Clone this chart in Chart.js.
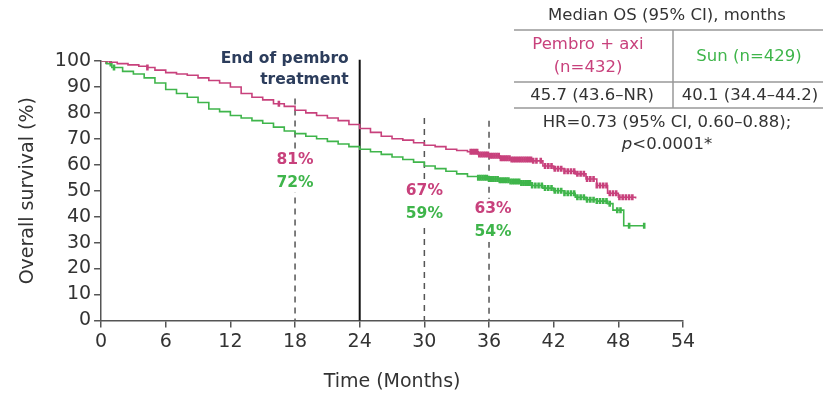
<!DOCTYPE html>
<html>
<head>
<meta charset="utf-8">
<script src="https://cdn.jsdelivr.net/npm/chart.js@4.4.1/dist/chart.umd.min.js"></script>
<style>
  html, body { margin: 0; padding: 0; background: #fff; }
  #wrap { position: relative; width: 823px; height: 401px; }
</style>
</head>
<body>
<div id="wrap"><canvas id="osChart" width="823" height="401"></canvas></div>
<script>
// ---- data (months, % alive) ----
const pembroMonths = [0, 0.8, 1.5, 2.5, 3.5, 4.3, 5, 6, 7, 8, 9, 10, 11, 12, 13, 14, 15, 16, 17, 18,
  19, 20, 21, 22, 23, 24, 25, 26, 27, 28, 29, 30, 31, 32, 33, 34, 35, 36, 37, 38, 39, 40, 41, 42,
  43, 44, 45, 46, 47, 48, 49.6];
const pembroSurv = [100, 99.5, 99, 98.5, 98, 97.5, 96.5, 95.5, 95, 94.5, 93.5, 92.5, 91.5, 90, 87.5, 86, 85, 83.5, 82.5, 81,
  80, 79, 78, 77, 75.5, 74, 72.5, 71, 70, 69.5, 68.5, 67.5, 67, 66, 65.5, 65, 64, 63.5, 62.5, 62, 62, 61.5, 59.5, 58.5,
  57.5, 56.5, 54.5, 52, 49, 47.5, 47];

const sunMonths = [0, 0.5, 1, 2, 3, 4, 5, 6, 7, 8, 9, 10, 11, 12, 13, 14, 15, 16, 17, 18,
  19, 20, 21, 22, 23, 24, 25, 26, 27, 28, 29, 30, 31, 32, 33, 34, 35, 36, 37, 38, 39, 40, 41, 42,
  43, 44, 45, 46, 47, 47.5, 48.5, 50.4];
const sunSurv = [100, 99, 97.5, 96, 95, 93.5, 91.5, 89, 87.5, 86, 84, 81.5, 80.5, 79, 78, 77, 76, 74.5, 73, 72,
  71, 70, 69, 68, 67, 66, 65, 64, 63, 62, 61, 59.5, 58.5, 57.5, 56.5, 55.5, 55, 54.5, 54, 53.5, 53, 52, 51, 50,
  49, 47.5, 46.5, 46, 45, 42.5, 36.5, 36.5];

// censoring ticks (months)
const pembroCensor = [0.5, 4.3, 16.5, 34.3, 34.5, 34.7, 34.9, 35.1, 35.3, 35.5, 35.7, 35.9, 36.1, 36.3,
  36.5, 36.7, 36.9, 37.1, 37.3, 37.5, 37.7, 37.9, 38.1, 38.3, 38.5, 38.7, 38.9, 39.1, 39.3, 39.5, 39.7,
  39.9, 40.1, 40.4, 40.8, 41.2, 41.5, 41.8, 42.1, 42.4, 42.7, 43.0, 43.3, 43.6, 43.9, 44.2, 44.5, 44.8,
  45.1, 45.4, 45.7, 46.0, 46.3, 46.6, 46.9, 47.2, 47.5, 47.8, 48.1, 48.4, 48.7, 49.0, 49.3];
const sunCensor = [0.9, 1.2, 35.0, 35.2, 35.4, 35.6, 35.8, 36.0, 36.2, 36.4, 36.6, 36.8, 37.0, 37.2, 37.4,
  37.6, 37.8, 38.0, 38.2, 38.4, 38.6, 38.8, 39.0, 39.2, 39.4, 39.6, 39.8, 40.0, 40.3, 40.6, 40.9, 41.2,
  41.5, 41.8, 42.1, 42.4, 42.7, 43.0, 43.3, 43.6, 43.9, 44.2, 44.5, 44.8, 45.1, 45.4, 45.7, 46.0, 46.3,
  46.6, 46.9, 47.2, 47.9, 48.2, 49.0, 50.4];

// landmark rates
const landmarkMonths = [18, 30, 36];
const pembroLandmark = ['81%', '67%', '63%'];
const sunLandmark = ['72%', '59%', '54%'];
const treatmentEnd = 24;

const xTicks = [0, 6, 12, 18, 24, 30, 36, 42, 48, 54];
const yTicks = [0, 10, 20, 30, 40, 50, 60, 70, 80, 90, 100];

const PEMBRO = '#c8417c';
const SUN = '#3fb54b';
const FONT = '"DejaVu Sans", "Liberation Sans", Arial, sans-serif';

function toPoints(xs, ys) {
  return xs.map((x, i) => ({ x: x, y: ys[i] }));
}

// value of the step curve at time t
function survAt(xs, ys, t) {
  let v = ys[0];
  for (let i = 0; i < xs.length; i++) {
    if (xs[i] <= t) v = ys[i];
  }
  return v;
}

function censorPoints(times, xs, ys) {
  return times.map(t => ({ x: t, y: survAt(xs, ys, t) }));
}

// reference lines, landmark labels and the side table
const overlay = {
  id: 'overlay',
  beforeDatasetsDraw(chart) {
    const { ctx, scales: { x, y } } = chart;
    ctx.save();
    // dashed landmark lines
    const dashTop = [85.5, 78, 77];
    ctx.strokeStyle = '#555';
    ctx.lineWidth = 1.5;
    ctx.setLineDash([6, 5]);
    landmarkMonths.forEach((m, i) => {
      ctx.beginPath();
      ctx.moveTo(x.getPixelForValue(m), y.getPixelForValue(dashTop[i]));
      ctx.lineTo(x.getPixelForValue(m), y.getPixelForValue(0));
      ctx.stroke();
    });
    ctx.setLineDash([]);

    // end of treatment line
    ctx.strokeStyle = '#111';
    ctx.lineWidth = 2;
    ctx.beginPath();
    ctx.moveTo(x.getPixelForValue(treatmentEnd), y.getPixelForValue(100.5));
    ctx.lineTo(x.getPixelForValue(treatmentEnd), y.getPixelForValue(0));
    ctx.stroke();
    ctx.restore();
  },
  afterDatasetsDraw(chart) {
    const { ctx, scales: { x, y } } = chart;
    ctx.save();

    ctx.font = 'bold 15.5px ' + FONT;
    ctx.fillStyle = '#2c3d5c';
    ctx.textAlign = 'right';
    ctx.textBaseline = 'middle';
    ctx.fillText('End of pembro', x.getPixelForValue(treatmentEnd) - 11, 59);
    ctx.fillText('treatment', x.getPixelForValue(treatmentEnd) - 11, 80);

    // landmark labels, knocked out of the dashed lines
    const labelY = [62, 50, 43];
    const labelDx = [0, 0, 4];
    ctx.font = 'bold 15.5px ' + FONT;
    ctx.textAlign = 'center';
    landmarkMonths.forEach((m, i) => {
      const px = x.getPixelForValue(m) + labelDx[i];
      const py = y.getPixelForValue(labelY[i]);
      const w = ctx.measureText(pembroLandmark[i]).width;
      ctx.fillStyle = '#fff';
      ctx.fillRect(px - w / 2 - 2, py - 10, w + 4, 43);
      ctx.fillStyle = PEMBRO;
      ctx.fillText(pembroLandmark[i], px, py);
      ctx.fillStyle = SUN;
      ctx.fillText(sunLandmark[i], px, py + 23);
    });

    // median OS table
    ctx.font = '16.5px ' + FONT;
    ctx.fillStyle = '#333';
    ctx.fillText('Median OS (95% CI), months', 667, 16);
    ctx.strokeStyle = '#999';
    ctx.lineWidth = 1.5;
    [30, 82, 108].forEach(ly => {
      ctx.beginPath();
      ctx.moveTo(514, ly);
      ctx.lineTo(823, ly);
      ctx.stroke();
    });
    ctx.beginPath();
    ctx.moveTo(673, 30);
    ctx.lineTo(673, 108);
    ctx.stroke();

    ctx.fillStyle = PEMBRO;
    ctx.fillText('Pembro + axi', 588, 45);
    ctx.fillText('(n=432)', 588, 68);
    ctx.fillStyle = SUN;
    ctx.fillText('Sun (n=429)', 749, 57);
    ctx.fillStyle = '#333';
    ctx.fillText('45.7 (43.6\u2013NR)', 592, 96);
    ctx.fillText('40.1 (34.4\u201344.2)', 750, 96);
    ctx.fillText('HR=0.73 (95% CI, 0.60\u20130.88);', 667, 123);

    // p-value with italic p
    const rest = '<0.0001*';
    ctx.font = '16.5px ' + FONT;
    const wRest = ctx.measureText(rest).width;
    ctx.font = 'italic 16.5px ' + FONT;
    const wP = ctx.measureText('p').width;
    const startX = 667 - (wRest + wP) / 2;
    ctx.textAlign = 'left';
    ctx.fillText('p', startX, 145);
    ctx.font = '16.5px ' + FONT;
    ctx.fillText(rest, startX + wP, 145);

    ctx.restore();
  }
};

const ctx = document.getElementById('osChart').getContext('2d');
new Chart(ctx, {
  type: 'line',
  data: {
    datasets: [
      {
        label: 'Pembro + axi',
        data: toPoints(pembroMonths, pembroSurv),
        borderColor: PEMBRO,
        borderWidth: 1.6,
        stepped: true,
        pointRadius: 0,
        fill: false
      },
      {
        label: 'Sun',
        data: toPoints(sunMonths, sunSurv),
        borderColor: SUN,
        borderWidth: 1.6,
        stepped: true,
        pointRadius: 0,
        fill: false
      },
      {
        label: 'Pembro censored',
        data: censorPoints(pembroCensor, pembroMonths, pembroSurv),
        showLine: false,
        pointStyle: 'line',
        rotation: 90,
        pointRadius: 3,
        borderColor: PEMBRO,
        borderWidth: 2.6
      },
      {
        label: 'Sun censored',
        data: censorPoints(sunCensor, sunMonths, sunSurv),
        showLine: false,
        pointStyle: 'line',
        rotation: 90,
        pointRadius: 3,
        borderColor: SUN,
        borderWidth: 2.6
      }
    ]
  },
  options: {
    responsive: false,
    animation: false,
    layout: { padding: { top: 61, right: 140, left: 17, bottom: 4 } },
    plugins: {
      legend: { display: false },
      tooltip: { enabled: false }
    },
    scales: {
      x: {
        type: 'linear',
        min: 0,
        max: 54,
        afterBuildTicks: axis => { axis.ticks = xTicks.map(v => ({ value: v })); },
        ticks: { color: '#333', font: { family: FONT, size: 19 }, padding: 3 },
        grid: { display: true, drawOnChartArea: false, drawTicks: true, tickLength: 7, color: '#555', lineWidth: 1.5 },
        border: { display: true, color: '#555', width: 1.5 },
        title: { display: true, text: 'Time (Months)', color: '#333', font: { family: FONT, size: 19 }, padding: { top: 14 } }
      },
      y: {
        min: 0,
        max: 100,
        afterBuildTicks: axis => { axis.ticks = yTicks.map(v => ({ value: v })); },
        ticks: { color: '#333', font: { family: FONT, size: 19 }, padding: 3 },
        grid: { display: true, drawOnChartArea: false, drawTicks: true, tickLength: 7, color: '#555', lineWidth: 1.5 },
        border: { display: true, color: '#555', width: 1.5 },
        title: { display: true, text: 'Overall survival (%)', color: '#333', font: { family: FONT, size: 19 }, padding: { top: 0, bottom: 12 } }
      }
    }
  },
  plugins: [overlay]
});
</script>
</body>
</html>
